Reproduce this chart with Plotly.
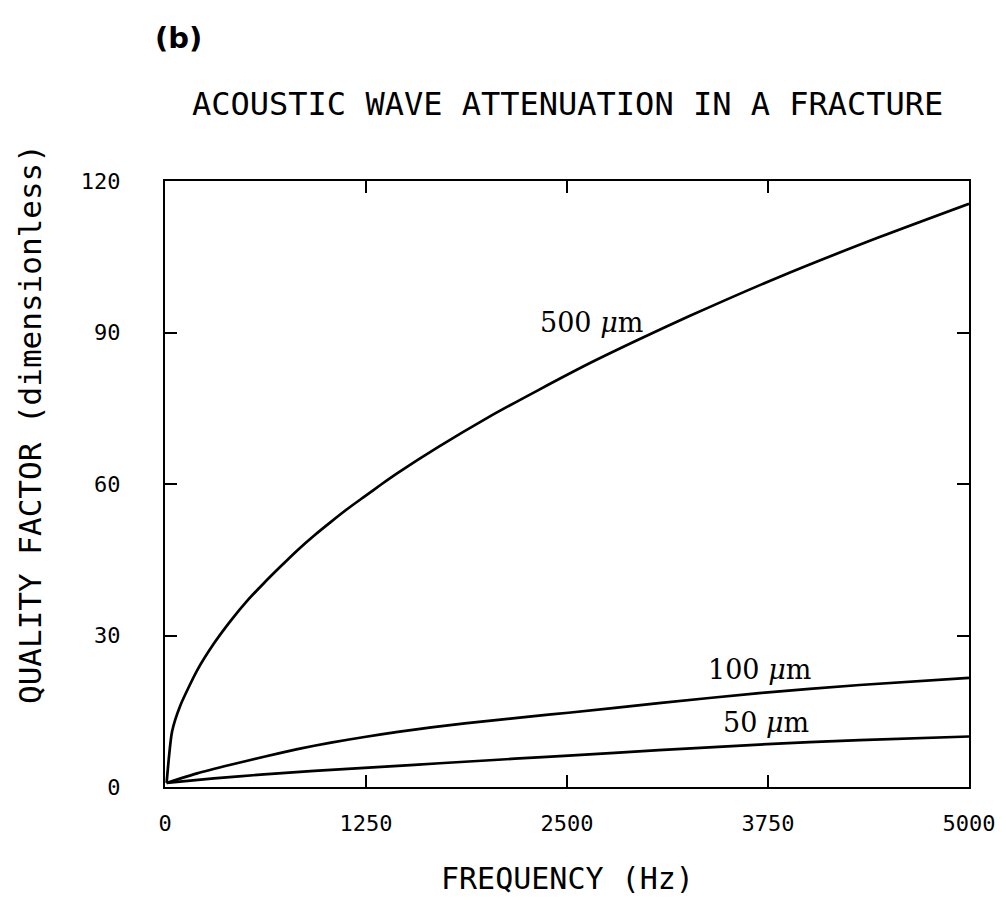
import plotly.graph_objects as go

# Frequency (Hz) and quality factor
freq_500 = [10, 44, 96, 200, 304, 408, 512, 616, 720, 824, 928, 1032, 1136, 1240, 1344, 1448,
            1698, 2010, 2322, 2634, 2946, 3258, 3820, 4444, 5000]
q_500 = [0.8, 11.0, 16.2, 23.1, 28.4, 32.9, 36.9, 40.4, 43.7, 46.9, 49.8, 52.5, 55.1, 57.5, 59.9, 62.2,
         67.3, 73.2, 78.6, 83.8, 88.6, 93.2, 101.0, 108.9, 115.5]

freq_100 = [10, 200, 408, 616, 824, 1032, 1240, 1448, 1656, 1864, 2072, 2280, 2509, 3071, 3695, 4320, 5000]
q_100 = [0.8, 2.7, 4.4, 6.0, 7.5, 8.8, 9.9, 10.9, 11.8, 12.6, 13.3, 14.0, 14.7, 16.6, 18.6, 20.2, 21.6]

freq_50 = [10, 304, 616, 928, 1240, 1552, 1864, 2176, 2509, 3071, 3695, 4320, 5000]
q_50 = [0.8, 1.7, 2.5, 3.2, 3.8, 4.4, 5.0, 5.6, 6.2, 7.3, 8.4, 9.3, 10.0]

x_ticks = [0, 1250, 2500, 3750, 5000]
y_ticks = [0, 30, 60, 90, 120]

curve_labels = ["500 <i>μ</i>m", "100 <i>μ</i>m", "50 <i>μ</i>m"]
label_pos_f = [2650, 3700, 3740]
label_pos_q = [92, 23.2, 12.8]

MONO = "DejaVu Sans Mono"
SERIF = "DejaVu Serif"

fig = go.Figure()
for fx, qy in [(freq_500, q_500), (freq_100, q_100), (freq_50, q_50)]:
    fig.add_trace(go.Scatter(x=fx, y=qy, mode="lines",
                             line=dict(color="black", width=2.7, shape="spline", smoothing=0.6),
                             showlegend=False, hoverinfo="skip"))

for txt, fx, qy in zip(curve_labels, label_pos_f, label_pos_q):
    fig.add_annotation(x=fx, y=qy, xref="x", yref="y", text=txt, showarrow=False,
                       font=dict(family=SERIF, size=27, color="black"))

fig.update_layout(
    width=1006, height=917,
    margin=dict(l=165, r=37, t=181, b=130),
    plot_bgcolor="white", paper_bgcolor="white",
    font=dict(family=MONO, color="black"),
)
fig.update_xaxes(range=[0, 5000], tickvals=x_ticks, ticktext=[str(v) for v in x_ticks],
                 ticks="inside", ticklen=12, tickwidth=2, tickcolor="black",
                 showline=True, linewidth=2, linecolor="black", mirror="ticks",
                 showgrid=False, zeroline=False, tickfont=dict(family=MONO, size=22),
                 ticklabelstandoff=16)
fig.update_yaxes(range=[0, 120], tickvals=y_ticks, ticktext=[str(v) for v in y_ticks],
                 ticks="inside", ticklen=12, tickwidth=2, tickcolor="black",
                 showline=True, linewidth=2, linecolor="black", mirror="ticks",
                 showgrid=False, zeroline=False, tickfont=dict(family=MONO, size=22),
                 ticklabelstandoff=38)

fig.add_annotation(text="ACOUSTIC WAVE ATTENUATION IN A FRACTURE", xref="paper", yref="paper",
                   x=0.5, y=1.0, yshift=98, showarrow=False, font=dict(family=MONO, size=32))
fig.add_annotation(text="FREQUENCY (Hz)", xref="paper", yref="paper", x=0.5, y=0, yshift=-111,
                   showarrow=False, font=dict(family=MONO, size=30))
fig.add_annotation(text="QUALITY FACTOR (dimensionless)", xref="paper", yref="paper",
                   x=0, xshift=-155, y=0.5, yshift=60, textangle=-90, showarrow=False,
                   font=dict(family=MONO, size=31))
fig.add_annotation(text="<b>(b)</b>", xref="paper", yref="paper", x=0, xshift=-12, y=1.0, yshift=162,
                   showarrow=False, font=dict(family="DejaVu Sans", size=29))

fig.write_html("out.html")
